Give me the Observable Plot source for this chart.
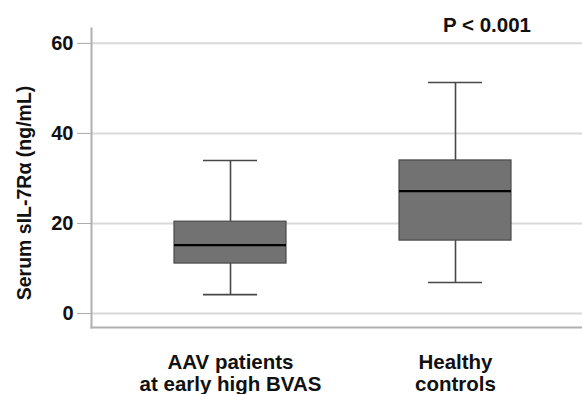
<!DOCTYPE html>
<html>
<head>
<meta charset="utf-8">
<script src="https://cdn.jsdelivr.net/npm/d3@7"></script>
<script src="https://cdn.jsdelivr.net/npm/@observablehq/plot@0.6"></script>
<style>
  html, body { margin: 0; padding: 0; background: #fff; }
  svg { font-family: "Liberation Sans", Arial, sans-serif; }
</style>
</head>
<body>
<div id="chart"></div>
<script>
const categories = ["AAV patients\nat early high BVAS", "Healthy\ncontrols"];
const whiskerLow = [4.2, 6.9];
const q1 = [11.1, 16.2];
const median = [15.2, 27.2];
const q3 = [20.4, 34.0];
const whiskerHigh = [34.0, 51.3];
const yTicks = [0, 20, 40, 60];
const yLabel = "Serum sIL-7Rα (ng/mL)";
const pLabel = "P < 0.001";

const data = categories.map((c, i) => ({
  cat: c, lo: whiskerLow[i], q1: q1[i], med: median[i], q3: q3[i], hi: whiskerHigh[i]
}));

const chart = Plot.plot({
  width: 582,
  height: 394,
  marginTop: 28,
  marginBottom: 67,
  marginLeft: 91,
  marginRight: 0,
  style: { fontFamily: "Liberation Sans, Arial, sans-serif", background: "#fff" },
  x: { domain: categories, range: [91, 594], padding: 0.2257, label: null },
  y: { domain: [-3.1, 63.3], label: null },
  marks: [
    Plot.ruleY(yTicks, { stroke: "#d9d9d9", strokeWidth: 2 }),
    Plot.frame({ anchor: "left", stroke: "#b0b0b0", strokeWidth: 2 }),
    Plot.frame({ anchor: "bottom", stroke: "#b0b0b0", strokeWidth: 2 }),
    Plot.axisY(yTicks, { tickSize: 14, tickPadding: 4, stroke: "#aaa", fill: "#111", fontSize: 20, fontWeight: "bold", label: null }),
    Plot.axisX({ tickSize: 0, tickPadding: 25, fontSize: 20.5, fontWeight: "bold", fill: "#111", lineHeight: 1.1, label: null }),
    Plot.ruleX(data, { x: "cat", y1: "lo", y2: "q1", stroke: "#474747", strokeWidth: 1.6 }),
    Plot.ruleX(data, { x: "cat", y1: "q3", y2: "hi", stroke: "#474747", strokeWidth: 1.6 }),
    Plot.tickY(data, { x: "cat", y: "lo", insetLeft: 60, insetRight: 60, stroke: "#474747", strokeWidth: 1.6 }),
    Plot.tickY(data, { x: "cat", y: "hi", insetLeft: 60, insetRight: 60, stroke: "#474747", strokeWidth: 1.6 }),
    Plot.barY(data, { x: "cat", y1: "q1", y2: "q3", insetLeft: 31, insetRight: 31, fill: "#727272", stroke: "#4a4a4a", strokeWidth: 1.2 }),
    Plot.tickY(data, { x: "cat", y: "med", insetLeft: 31, insetRight: 31, stroke: "#000", strokeWidth: 2.2 }),
    Plot.text([yLabel], { frameAnchor: "left", textAnchor: "middle", rotate: -90, dx: -67, dy: 15, fontSize: 19.5, fontWeight: "bold", fill: "#111" }),
    Plot.text([pLabel], { x: () => categories[1], frameAnchor: "top", lineAnchor: "bottom", dx: 31.5, dy: 3, fontSize: 20.5, fontWeight: "bold", fill: "#111" })
  ]
});
document.getElementById("chart").appendChild(chart);
</script>
</body>
</html>
